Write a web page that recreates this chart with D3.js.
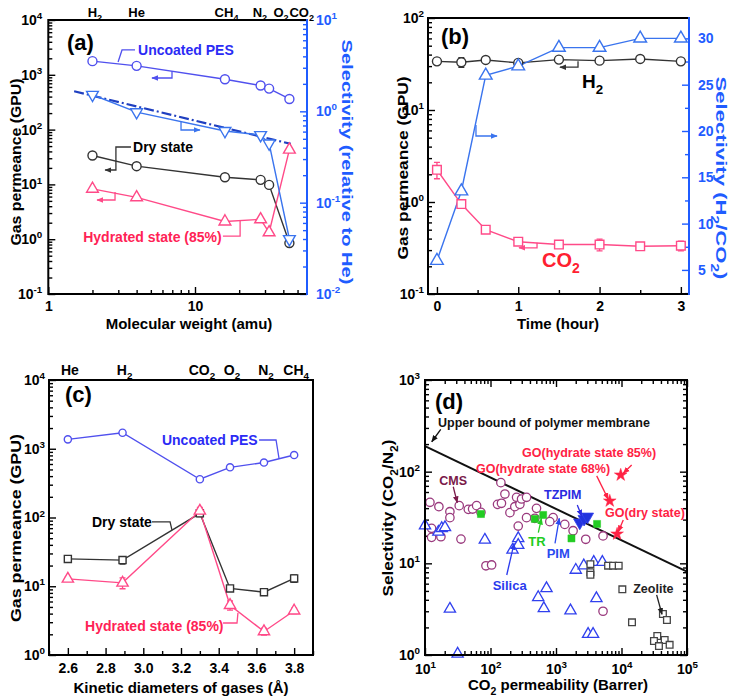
<!DOCTYPE html>
<html><head><meta charset="utf-8">
<script src="https://cdn.jsdelivr.net/npm/d3@7/dist/d3.min.js"></script>
<style>
body{margin:0;background:#fff}
text{font-family:"Liberation Sans",Arial,Helvetica,sans-serif;font-weight:bold}
</style></head><body>
<svg id="chart" width="734" height="700"></svg>
<script>
// ================= DATA =================
// (a) permeance vs molecular weight
const gasesA = ["H2","He","CH4","N2","O2","CO2"];
const mwA = [2,4,16,28,32,44];
const gasLabelPosA = [2.08,4.0,16.4,27.7,38.6,53.4];
const uncoatedA = [1775,1456,830,637,560,362];
const dryA = [33.7,21.5,13.5,12.1,9.8,0.85];
const hydratedA = [8.3,5.8,2.1,2.3,1.33,43];
const selectivityA = [1.52,0.98,0.61,0.55,0.445,0.04];
const knudsenA = [[1.5,1.66],[45,0.44]];

// (b) permeance vs time
const timeB = [0,0.3,0.6,1,1.5,2,2.5,3];
const h2B = [33.8,33.0,35.0,32.5,35.3,34.4,35.9,33.8];
const h2ErrB = [0,4,0,0,0,0,0,0];
const co2B = [2.24,0.95,0.50,0.37,0.345,0.345,0.33,0.335];
const co2ErrB = [0.45,0,0,0,0,0.05,0,0.04];
const selB = [6,13.5,26,27,29,29,30,30];

// (c) permeance vs kinetic diameter
const gasesC = ["He","H2","CO2","O2","N2","CH4"];
const kdC = [2.6,2.89,3.3,3.46,3.64,3.8];
const uncoatedC = [1370,1710,360,537,630,810];
const dryC = [25,24,115,9.3,8.2,13];
const dryErrC = [2,3,12,0.6,0.4,1.6];
const hydratedC = [12.8,11.2,125,5.3,2.2,4.4];
const hydErrC = [1,2,15,0.8,0.25,0.4];

// (d) Robeson plot CO2/N2
const upperBound = [[10,190],[1e5,8.1]];
const cmsPts = [[11.9,46.3],[12.6,24.1],[12.6,19.2],[16.3,41.5],[17.5,19.5],[24,36.6],[24,31.5],[33.3,42.6],[35.4,18.4],[45.8,38.8],[53.3,39.1],[61.4,42.6],[71.5,36],[85.2,9.4],[104,9.6],[128,44],[144,75.9],[147,45.2],[166,57],[198,35.7],[235,41.5],[250,52.5],[265,25.5],[281,44],[298,50.3],[355,52.5],[355,31.5],[475,31],[504,39.8],[904,31.5],[804,28.5],[1361,26.6],[1824,22.7],[2845,18.3],[5224,19.9],[5224,3.0]];
const silicaPts = [[10,25.8],[16,22],[18,24.1],[20.2,24.7],[82,18],[265,18.7],[265,15.8],[217,14],[24,3.18],[31.5,1.03],[535,4.26],[716,5.34],[652,3.23],[1664,3.05],[2004,8.46],[2655,9.43],[3090,1.69],[3680,1.69],[4140,4.15],[3770,10.3],[5100,10.3]];
const zeolitePts = [[3350,9.8],[3350,8.0],[3350,7.5],[6240,9.43],[7430,9.43],[9060,9.43],[10300,5.2],[14460,2.27],[42900,2.8],[49400,2.41],[35200,1.61],[31300,1.42],[45600,1.46],[37300,1.25],[54300,1.29]];
const trPts = [[71.5,34.5],[475,30.5],[637,33.7],[1722,18.7],[4236,26.9]];
const tzpimPts = [[2306,27.8],[2685,30.5],[3020,32.3]];
const goPts = [[9730,92],[6620,47.9],[8570,20.9]];

// ================= HELPERS =================
const BLUEAX = "#1f5cff", UNC = "#5050ee", UNCT = "#2b2bf5", SEL = "#3a74ee", DRY = "#333",
      HYD = "#ff4a88", HYDT = "#ff2255", CMS = "#9a3a7e", SIL = "#3040ee", ZEO = "#444", TR = "#22cc22", GO = "#ff2244";
const svg = d3.select("#chart");
const defs = svg.append("defs");
const markers = {};
function markerFor(color){
  if(markers[color]) return markers[color];
  const id = "m" + Object.keys(markers).length;
  defs.append("marker").attr("id",id).attr("viewBox","0 0 10 10").attr("refX",9).attr("refY",5)
    .attr("markerWidth",7).attr("markerHeight",7).attr("markerUnits","userSpaceOnUse").attr("orient","auto")
    .append("path").attr("d","M0,1L10,5L0,9Z").attr("fill",color);
  markers[color] = id; return id;
}
function rich(sel, parts, fs){
  let shift = 0;
  parts.forEach(([t,k])=>{
    const target = k==="sub" ? 0.3*fs : k==="sup" ? -0.42*fs : 0;
    const ts = sel.append("tspan").text(t);
    if(target-shift) ts.attr("dy", target-shift);
    if(k) ts.attr("font-size", fs*0.7);
    shift = target;
  });
}
function gasParts(s){ const m = s.match(/^(.*?)(\d*)$/); return m[2] ? [[m[1]],[m[2],"sub"]] : [[m[1]]]; }
function label(g,x,y,parts,o){
  const t = g.append("text").attr("x",x).attr("y",y).attr("font-size",o.fs).attr("fill",o.color||"#000").attr("text-anchor",o.anchor||"start");
  if(o.rotate) t.attr("transform",`rotate(${o.rotate},${x},${y})`);
  if(o.len) t.attr("textLength",o.len).attr("lengthAdjust","spacingAndGlyphs");
  rich(t,parts,o.fs); return t;
}
function isPow10(v){ const l = Math.log10(v); return Math.abs(l-Math.round(l))<1e-6; }
function logVals(lo,hi){ const out=[]; for(let e=Math.floor(Math.log10(lo)+1e-9); e<=Math.ceil(Math.log10(hi)-1e-9); e++) for(let m=1;m<10;m++){ const v=m*Math.pow(10,e); if(v>=lo*(1-1e-9)&&v<=hi*(1+1e-9)) out.push(v);} return out; }
function axis(g, scale, orient, o){
  const size = o.size||7, minor = o.minor||4, fs = o.fs||14;
  const gen = ({left:d3.axisLeft,right:d3.axisRight,top:d3.axisTop,bottom:d3.axisBottom})[orient](scale)
    .tickValues(o.values).tickSizeInner(-size).tickSizeOuter(0).tickPadding(o.pad==null?6:o.pad).tickFormat(()=>"");
  const ag = g.append("g").attr("transform",o.at).call(gen);
  ag.select(".domain").remove();
  const vert = orient==="left"||orient==="right";
  ag.selectAll(".tick line").attr("stroke",o.color||"#000").attr("stroke-width",1.4)
    .each(function(d){ if(!o.isMajor(d)){ const l=d3.select(this), k=vert?"x2":"y2"; l.attr(k, +l.attr(k)*minor/size); }});
  ag.selectAll(".tick text").attr("fill",o.color||"#000").attr("font-size",fs)
    .each(function(d){ if(o.label && o.isMajor(d)){ const s=d3.select(this);
      if(o.label==="pow") rich(s,[["10"],[String(Math.round(Math.log10(d))),"sup"]],fs); else s.text(o.label(d)); }});
  return ag;
}
function line(g, xs, ys, xv, yv, color, w){
  g.append("path").attr("d", d3.line().x((d,i)=>xs(xv[i])).y((d,i)=>ys(yv[i]))(xv))
    .attr("fill","none").attr("stroke",color).attr("stroke-width",w||1.4);
}
function pts(g, xs, ys, data, shape, color, o={}){
  data.forEach(([x,y])=>{
    const X = xs(x), Y = ys(y);
    let el;
    if(shape==="circle") el = g.append("circle").attr("cx",X).attr("cy",Y).attr("r",o.r||4.5);
    else {
      const type = {tri:d3.symbolTriangle,tridown:d3.symbolTriangle,square:d3.symbolSquare,star:d3.symbolStar}[shape];
      el = g.append("path").attr("d", d3.symbol().type(type).size(o.size||55)())
        .attr("transform",`translate(${X},${Y})${shape==="tridown"?" rotate(180)":""}`);
    }
    el.attr("fill", o.fill||"#fff").attr("stroke",color).attr("stroke-width",o.sw||1.4);
  });
}
function zipXY(a,b){ return a.map((v,i)=>[v,b[i]]); }
function errBars(g, xs, ys, xv, yv, ev, color){
  xv.forEach((x,i)=>{ if(!ev[i]) return;
    const X=xs(x), y1=ys(yv[i]+ev[i]), y2=ys(Math.max(yv[i]-ev[i],1e-6));
    g.append("path").attr("d",`M${X},${y1}V${y2}M${X-3},${y1}H${X+3}M${X-3},${y2}H${X+3}`)
      .attr("stroke",color).attr("stroke-width",1.3).attr("fill","none");
  });
}
function annot(g, xs, ys, ys2, list){
  list.forEach(a=>{
    const yy = a.right ? ys2 : ys;
    if(a.path) g.append("path").attr("d", d3.line()(a.path.map(p=>[xs(p[0]), yy(p[1])])))
      .attr("fill","none").attr("stroke",a.color).attr("stroke-width",1.3)
      .attr("marker-end", a.arrow ? `url(#${markerFor(a.color)})` : null);
    if(a.text) label(g, xs(a.at[0]), yy(a.at[1]), a.text, {fs:a.fs||14, color:a.tc||a.color});
  });
}
function frame(g, P, rightColor){
  g.append("path").attr("d",`M${P.r},${P.t}H${P.l}V${P.b}H${P.r}`).attr("fill","none").attr("stroke","#000").attr("stroke-width",2);
  g.append("line").attr("x1",P.r).attr("x2",P.r).attr("y1",P.t-1).attr("y2",P.b+1).attr("stroke",rightColor||"#000").attr("stroke-width",2);
}

// ================= PANEL (a) =================
{
  const P = {l:48.3, r:307, t:20, b:294};
  const x = d3.scaleLog().domain([1,58]).range([P.l,P.r]);
  const y = d3.scaleLog().domain([0.1,1e4]).range([P.b,P.t]);
  const y2 = d3.scaleLog().domain([0.01,10]).range([P.b,P.t]);
  const g = svg.append("g");
  axis(g, x, "bottom", {at:`translate(0,${P.b})`, values:logVals(1,58), isMajor:isPow10, label:d=>String(Math.round(d)), pad:7});
  axis(g, y, "left", {at:`translate(${P.l},0)`, values:logVals(0.1,1e4), isMajor:isPow10, label:"pow", pad:6});
  axis(g, y2, "right", {at:`translate(${P.r},0)`, values:logVals(0.01,10), isMajor:isPow10, label:"pow", pad:9, color:BLUEAX});
  g.append("path").attr("d", d3.line()(knudsenA.map(d=>[x(d[0]),y2(d[1])])))
    .attr("stroke","#1f3fc0").attr("stroke-width",2.2).attr("stroke-dasharray","10,3,2,3").attr("fill","none");
  line(g,x,y,mwA,uncoatedA,UNC);
  line(g,x,y,mwA,dryA,DRY);
  line(g,x,y,mwA,hydratedA,HYD);
  line(g,x,y2,mwA,selectivityA,SEL);
  pts(g,x,y,zipXY(mwA,uncoatedA),"circle",UNC);
  pts(g,x,y,zipXY(mwA,dryA),"circle",DRY);
  pts(g,x,y,zipXY(mwA,hydratedA),"tri",HYD,{size:60});
  pts(g,x,y2,zipXY(mwA,selectivityA),"tridown",SEL,{size:60});
  frame(g,P,BLUEAX);
  gasesA.forEach((s,i)=>label(g, x(gasLabelPosA[i]), 17, gasParts(s), {fs:13, anchor:"middle"}));
  annot(g,x,y,y2,[
    {text:[["(a)"]], at:[1.34,2840], color:"#000", fs:22},
    {text:[["Uncoated PES"]], at:[4.09,2297], color:UNC, tc:UNCT, path:[[3.9,2840],[3.18,2840],[2.99,1714]]},
    {path:[[6.97,1161],[6.97,875],[5.09,875]], color:UNC, arrow:true},
    {path:[[8.03,0.77],[8.03,0.625],[10.8,0.625]], color:SEL, arrow:true, right:true},
    {text:[["Dry state"]], at:[3.78,39], color:DRY, tc:"#000", path:[[3.66,48.1],[2.89,48.1],[2.89,18.3],[2.44,18.3]], arrow:true},
    {text:[["Hydrated state (85%)"]], at:[1.73,0.889], color:HYD, tc:HYDT, path:[[15.5,1.14],[20.3,1.14],[20.3,2.15]]},
    {path:[[2.85,7.26],[2.85,5.19],[2.15,5.19]], color:HYD, arrow:true}
  ]);
  label(g,189,329,[["Molecular weight (amu)"]],{fs:15,anchor:"middle"});
  label(g,21,162,[["Gas permeance (GPU)"]],{fs:15.5,anchor:"middle",rotate:-90,len:167});
  label(g,342,162,[["Selectivity (relative to He)"]],{fs:15.5,anchor:"middle",rotate:90,color:BLUEAX,len:245});
}

// ================= PANEL (b) =================
{
  const P = {l:428, r:689, t:18, b:294};
  const x = d3.scaleLinear().domain([-0.11,3.1]).range([P.l,P.r]);
  const y = d3.scaleLog().domain([0.1,100]).range([P.b,P.t]);
  const y2 = d3.scaleLinear().domain([2.4,32.2]).range([P.b,P.t]);
  const g = svg.append("g");
  axis(g, x, "bottom", {at:`translate(0,${P.b})`, values:[0,0.5,1,1.5,2,2.5,3], isMajor:d=>Number.isInteger(d), label:d=>String(d), pad:7});
  axis(g, y, "left", {at:`translate(${P.l},0)`, values:logVals(0.1,100), isMajor:isPow10, label:"pow", pad:4});
  axis(g, y2, "right", {at:`translate(${P.r},0)`, values:d3.range(2.5,32.01,2.5), isMajor:d=>d%5===0, label:d=>String(d), pad:9, color:BLUEAX});
  line(g,x,y,timeB,h2B,DRY);
  line(g,x,y,timeB,co2B,HYD);
  line(g,x,y2,timeB,selB,SEL);
  errBars(g,x,y,timeB,h2B,h2ErrB,DRY);
  errBars(g,x,y,timeB,co2B,co2ErrB,HYD);
  pts(g,x,y,zipXY(timeB,h2B),"circle",DRY);
  pts(g,x,y,zipXY(timeB,co2B),"square",HYD,{size:75});
  pts(g,x,y2,zipXY(timeB,selB),"tri",SEL,{size:70});
  frame(g,P,BLUEAX);
  annot(g,x,y,y2,[
    {text:[["(b)"]], at:[0.05,52], color:"#000", fs:22},
    {text:[["H"],["2","sub"]], at:[1.784,17.2], color:"#000", fs:19},
    {path:[[1.735,33.9],[1.735,29.2],[1.513,29.2]], color:DRY, arrow:true},
    {path:[[0.48,20.65],[0.48,19.46],[0.739,19.46]], color:SEL, arrow:true, right:true},
    {text:[["CO"],["2","sub"]], at:[1.292,0.197], color:HYD, tc:"#ff2030", fs:20},
    {path:[[1.231,0.36],[1.231,0.318],[1.009,0.318]], color:HYD, arrow:true}
  ]);
  label(g,558,329,[["Time (hour)"]],{fs:15,anchor:"middle"});
  label(g,408,168,[["Gas permeance (GPU)"]],{fs:15.5,anchor:"middle",rotate:-90,len:183});
  label(g,716,178,[["Selectivity (H"],["2","sub"],["/CO"],["2","sub"],[")"]],{fs:15.5,anchor:"middle",rotate:90,color:BLUEAX,len:203});
}

// ================= PANEL (c) =================
{
  const P = {l:49, r:313, t:380, b:655};
  const x = d3.scaleLinear().domain([2.5,3.9]).range([P.l,P.r]);
  const y = d3.scaleLog().domain([1,1e4]).range([P.b,P.t]);
  const g = svg.append("g");
  axis(g, x, "bottom", {at:`translate(0,${P.b})`, values:d3.range(25,40).map(v=>v/10), isMajor:d=>Math.round(d*10)%2===0, label:d=>d.toFixed(1), pad:8});
  axis(g, y, "left", {at:`translate(${P.l},0)`, values:logVals(1,1e4), isMajor:isPow10, label:"pow", pad:4});
  line(g,x,y,kdC,uncoatedC,UNC);
  line(g,x,y,kdC,dryC,DRY);
  line(g,x,y,kdC,hydratedC,HYD);
  errBars(g,x,y,kdC,dryC,dryErrC,DRY);
  errBars(g,x,y,kdC,hydratedC,hydErrC,HYD);
  pts(g,x,y,zipXY(kdC,uncoatedC),"circle",UNC,{r:3.6});
  pts(g,x,y,zipXY(kdC,dryC),"square",DRY,{size:50});
  pts(g,x,y,zipXY(kdC,hydratedC),"tri",HYD,{size:55});
  frame(g,P);
  gasesC.forEach((s,i)=>label(g, x(kdC[i])+2, 375, gasParts(s), {fs:14, anchor:"middle"}));
  annot(g,x,y,y,[
    {text:[["(c)"]], at:[2.585,4786], color:"#000", fs:22},
    {text:[["Uncoated PES"]], at:[3.099,1134], color:UNC, tc:UNCT, path:[[3.614,1340],[3.704,1340],[3.72,720]]},
    {text:[["Dry state"]], at:[2.728,72.8], color:DRY, tc:"#000", path:[[3.046,86.1],[3.142,86.1],[3.152,66]]},
    {text:[["Hydrated state (85%)"]], at:[2.691,2.23], color:HYD, tc:HYDT, path:[[3.423,2.92],[3.497,2.92],[3.502,4.1]]}
  ]);
  label(g,181,693,[["Kinetic diameters of gases (Å)"]],{fs:15,anchor:"middle"});
  label(g,21,528,[["Gas permeance (GPU)"]],{fs:15.5,anchor:"middle",rotate:-90,len:188});
}

// ================= PANEL (d) =================
{
  const P = {l:425, r:687, t:380, b:655};
  const x = d3.scaleLog().domain([10,1e5]).range([P.l,P.r]);
  const y = d3.scaleLog().domain([1,1000]).range([P.b,P.t]);
  const g = svg.append("g");
  axis(g, x, "bottom", {at:`translate(0,${P.b})`, values:logVals(10,1e5), isMajor:isPow10, label:"pow", pad:9});
  axis(g, x, "top", {at:`translate(0,${P.t})`, values:logVals(10,1e5), isMajor:isPow10});
  axis(g, y, "left", {at:`translate(${P.l},0)`, values:logVals(1,1000), isMajor:isPow10, label:"pow", pad:5});
  axis(g, y, "right", {at:`translate(${P.r},0)`, values:logVals(1,1000), isMajor:isPow10});
  g.append("path").attr("d", d3.line()(upperBound.map(d=>[x(d[0]),y(d[1])]))).attr("stroke","#111").attr("stroke-width",2).attr("fill","none");
  pts(g,x,y,cmsPts,"circle",CMS,{r:4.2,sw:1.3});
  pts(g,x,y,silicaPts,"tri",SIL,{size:55,sw:1.3});
  pts(g,x,y,zeolitePts,"square",ZEO,{size:45,sw:1.3});
  pts(g,x,y,trPts,"square",TR,{size:50,fill:TR,sw:0.5});
  pts(g,x,y,tzpimPts,"tridown",SIL,{size:65,fill:"#2233dd",sw:0.8});
  pts(g,x,y,goPts,"star",GO,{size:50,fill:GO,sw:0.5});
  frame(g,P);
  annot(g,x,y,y,[
    {text:[["(d)"]], at:[14.2,483], color:"#000", fs:22},
    {text:[["Upper bound of polymer membrane"]], at:[15.8,307], color:"#111", fs:12.5, path:[[17.4,290],[12.7,212]], arrow:true},
    {text:[["GO(hydrate state 85%)"]], at:[303,146], color:GO, fs:12.5, path:[[14300,118],[10640,96]], arrow:true},
    {text:[["GO(hydrate state 68%)"]], at:[60.1,96.7], color:GO, fs:12.5, path:[[4180,90],[6280,50]], arrow:true},
    {text:[["GO(dry state)"]], at:[5600,32], color:GO, fs:12.5, path:[[10640,29.7],[8930,22.1]], arrow:true},
    {text:[["CMS"]], at:[16.5,71.6], color:"#7a1a4a", fs:12.5, path:[[27,68.5],[31.1,45.9]], arrow:true},
    {text:[["TZPIM"]], at:[656,50.3], color:"#2a2ae0", fs:12.5, path:[[2113,43.3],[2466,32.8]], arrow:true},
    {text:[["TR"]], at:[378,15.5], color:TR, fs:13, path:[[537,21.6],[600,31]], arrow:true},
    {text:[["PIM"]], at:[721,11.4], color:"#2a4af0", fs:13, path:[[966,16.5],[1122,31]], arrow:true},
    {text:[["Silica"]], at:[108,5.12], color:"#2a3aee", fs:13, path:[[177,7.46],[229,16.5]], arrow:true},
    {text:[["Zeolite"]], at:[15100,4.75], color:"#222", fs:12.5, path:[[34400,4.52],[41500,2.78]], arrow:true}
  ]);
  label(g,558,690,[["CO"],["2","sub"],[" permeability (Barrer)"]],{fs:15,anchor:"middle"});
  label(g,393,518,[["Selectivity (CO"],["2","sub"],["/N"],["2","sub"],[")"]],{fs:15.5,anchor:"middle",rotate:-90,len:157});
}
</script>
</body></html>
